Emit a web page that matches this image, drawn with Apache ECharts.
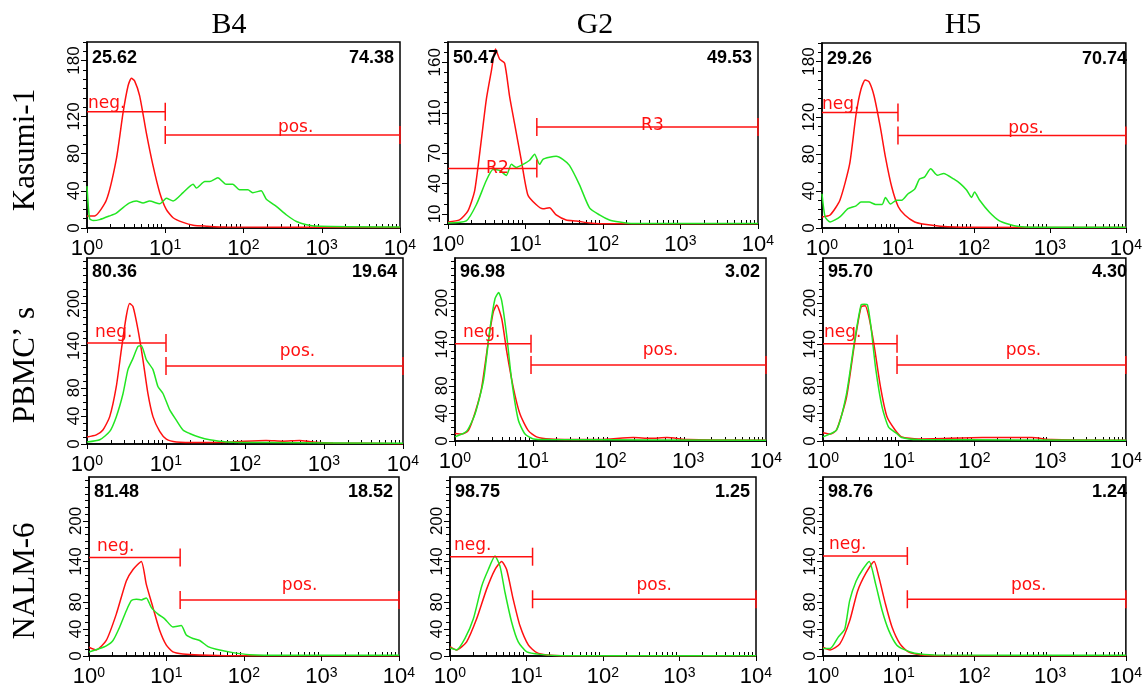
<!DOCTYPE html>
<html>
<head>
<meta charset="utf-8">
<title>Flow histograms</title>
<script src="https://cdn.jsdelivr.net/npm/echarts@6/dist/echarts.min.js"></script>
<style>
  html, body { margin: 0; background: #fff; }
  #chart { width: 1145px; height: 688px; }
</style>
</head>
<body>
<div id="chart"></div>
<script>
// columns / rows
const antibodies = ["B4", "G2", "H5"];
const cellLines = ["Kasumi-1", "PBMC’ s", "NALM-6"];

// histogram curves, [channel, count] (red = control, green = antibody)
const kasB4Red = [[1,13],[1.25,13],[1.77,30],[2.37,74],[2.89,124],[3.35,153],[3.69,161],[4.07,158],[4.71,142],[5.74,102],[6.98,67],[8.5,38],[10.3,20],[12.6,11],[16.9,6],[22.7,3],[33.6,2],[60,1],[10000,0.5]];
const kasB4Green = [[1,45],[1.08,10],[1.2,8],[1.45,9],[1.95,13],[2.37,16],[2.89,22],[3.51,27],[4.27,29],[5.2,27],[6.3,29],[8.5,26],[9.4,29],[10.3,32],[12.6,29],[16.9,38],[22.7,47],[25,43],[32,50],[37,50],[47,54],[60,47],[73,47],[89,41],[114,41],[132,38],[168,40],[196,31],[265,23],[355,14],[475,7],[640,3.6],[940,1.8],[10000,1]];
const kasG2Red = [[1,2],[1.41,4],[1.81,13],[2.21,33],[2.69,83],[3.12,123],[3.62,151],[4.1,173],[4.64,163],[5.38,159],[6.24,126],[7.24,99],[8.83,63],[10.7,29],[13.8,19],[16.8,15],[20.4,16],[24.9,9],[33.5,4],[45,3],[67,1],[90,0.3],[10000,0.3]];
const kasG2Green = [[1,1],[1.72,3],[2.32,19],[3.12,43],[3.8,54],[4.64,53],[5.66,48],[6.57,59],[7.6,56],[9.3,59],[11.3,63],[13.1,69],[15.2,59],[16.8,64],[20.4,66],[24.9,67],[30.3,64],[36.9,58],[49.6,39],[67,16],[90,9],[121,4],[164,2],[244,0.5],[10000,0.5]];
const kasH5Red = [[1,12],[1.28,14],[1.72,30],[2.31,69],[2.81,123],[3.26,150],[3.7,160],[4.17,158],[4.84,143],[5.86,109],[6.83,77],[8.3,44],[10.1,23],[12.3,14],[16.6,6.5],[22.3,4],[36,2],[80,0.7],[10000,0.5]];
const kasH5Green = [[1,37],[1.1,12],[1.28,6.5],[1.72,12],[2.2,21],[2.81,24],[3.26,28],[4.17,28],[5.07,25.5],[6.2,25.5],[6.83,33],[7.96,26],[9.6,30],[11.2,30],[13.6,37],[16.6,42],[19.2,53],[22.3,55],[27,64],[33,57],[40,59],[54,53],[66,48],[80,41],[93,33],[102,39],[119,30],[160,17],[214,8],[288,4],[390,1.5],[570,0.7],[10000,0.7]];
const pbmcB4Red = [[1,10],[1.31,13],[1.59,20],[1.94,39],[2.35,82],[2.72,134],[3.14,182],[3.47,200],[3.82,196],[4.42,163],[5.11,120],[5.9,72],[6.84,39],[8.32,18],[10.1,7],[13.5,3],[26.6,2],[70,3],[185,5],[300,4],[490,5],[720,3],[1300,1.5],[10000,0.5]];
const pbmcB4Green = [[1,3],[1.45,6],[1.94,18],[2.35,39],[2.86,72],[3.3,106],[3.82,122],[4.42,139],[4.88,140],[5.64,120],[6.84,106],[7.9,82],[9.15,72],[11.1,49],[13.5,34],[16.4,20],[19.9,15],[26.6,9.5],[35.7,6],[58,3],[185,2],[10000,1]];
const pbmcG2Red = [[1,11],[1.22,10],[1.48,15],[1.81,41],[2.2,77],[2.68,144],[3.11,187],[3.44,197],[3.99,177],[4.62,130],[5.63,77],[6.85,39],[8.77,15],[11.2,6],[16.7,3],[73,2],[197,5],[325,4],[530,5],[1000,2],[10000,1]];
const pbmcG2Green = [[1,6],[1.41,14],[1.81,39],[2.32,87],[2.82,163],[3.27,206],[3.64,215],[3.99,203],[4.62,153],[5.37,87],[6.53,30],[7.95,10],[10.2,3],[16.7,2],[10000,1]];
const pbmcH5Red = [[1,12],[1.24,10],[1.51,16],[2.04,63],[2.6,140],[3.18,194],[3.61,196],[4.07,178],[4.71,140],[5.75,78],[7.0,35],[8.95,16],[10.9,6],[17.9,3],[128,5],[211,5],[570,5],[1040,2],[10000,1]];
const pbmcH5Green = [[1,6],[1.51,16],[2.04,68],[2.6,144],[3.18,197],[3.51,198],[3.87,197],[4.27,168],[4.95,106],[6.03,49],[7.35,20],[9.4,11],[10.9,5],[17.9,2],[10000,1]];
const nalmB4Red = [[1,13],[1.24,9],[1.67,23],[2.25,62],[3.03,111],[3.7,128],[4.73,140],[5.49,106],[6.68,72],[8.15,38],[9.95,16],[12.1,6],[16.3,3],[26.8,1.5],[72,0.5],[10000,0.5]];
const nalmB4Green = [[1,6],[1.37,11],[1.67,15],[2.04,23],[2.49,43],[3.03,67],[3.52,82],[4.08,84],[4.73,83],[5.49,86],[6.36,72],[7.77,62],[9.48,55],[12.1,43],[15.5,45],[18,31],[21.9,26],[26.8,23],[34.3,14],[43.8,10],[72,5],[117,2],[316,1],[10000,1]];
const nalmG2Red = [[1,14],[1.22,9],[1.65,21],[2.23,55],[3.01,99],[3.87,128],[4.73,140],[5.5,128],[6.7,84],[8.2,45],[10.6,16],[13.6,5],[18.4,1.5],[33,0.5],[10000,0.5]];
const nalmG2Green = [[1,12],[1.22,9],[1.57,26],[2.02,55],[2.59,103],[3.17,128],[3.87,148],[4.5,133],[5.24,94],[6.4,50],[7.8,21],[10.1,6],[15,2.4],[30,0.5],[10000,0.5]];
const nalmH5Red = [[1,13],[1.24,9],[1.67,18],[2.25,52],[2.86,96],[3.7,123],[4.73,140],[5.49,116],[6.68,77],[8.15,43],[10.4,18],[13.4,6],[19.8,1.5],[36,0.5],[10000,0.5]];
const nalmH5Green = [[1,11],[1.24,11],[1.59,28],[1.94,40],[2.25,82],[2.74,111],[3.34,128],[4.08,140],[4.97,106],[6.05,67],[7.38,38],[9.45,16],[12.1,9],[16.3,4],[29.6,1.5],[10000,1]];

const redCurves = [kasB4Red, kasG2Red, kasH5Red, pbmcB4Red, pbmcG2Red, pbmcH5Red, nalmB4Red, nalmG2Red, nalmH5Red];
const greenCurves = [kasB4Green, kasG2Green, kasH5Green, pbmcB4Green, pbmcG2Green, pbmcH5Green, nalmB4Green, nalmG2Green, nalmH5Green];

// gate percentages
const negPct = [25.62, 50.47, 29.26, 80.36, 96.98, 95.70, 81.48, 98.75, 98.76];
const posPct = [74.38, 49.53, 70.74, 19.64, 3.02, 4.30, 18.52, 1.25, 1.24];

// gates: [from, to, height]
const negGates = [[1,10,125],[1,14,55],[1,10,125],[1,10,144],[1,9.5,141],[1,9.5,141],[1,15,146],[1,12,147],[1,13,148]];
const posGates = [[10,10000,100],[14,10000,96],[10,10000,100],[10,10000,111],[9.5,10000,110],[9.5,10000,110],[15,10000,83],[12,10000,84],[13,10000,84]];
const gateNames = [["neg.","pos."],["R2","R3"],["neg.","pos."],["neg.","pos."],["neg.","pos."],["neg.","pos."],["neg.","pos."],["neg.","pos."],["neg.","pos."]];

// axes
const yMax = [200, 180, 200, 265, 265, 265, 265, 265, 265];
const yTickLabels = [[0,40,80,120,180],[10,40,70,110,160],[0,40,80,120,180],[0,40,80,140,200],[0,40,80,140,200],[0,40,80,140,200],[0,40,80,140,200],[0,40,80,140,200],[0,40,80,140,200]];
const xDecades = [1, 10, 100, 1000, 10000];
const xMinorSteps = [2, 3, 4, 5, 6, 7, 8, 9];

// ---- layout ----
const boxes = [
  [87, 42, 313, 186], [448, 42, 310, 182], [822, 43, 311, 185],
  [87, 258, 316, 186], [455, 258, 311, 183], [823, 258, 310, 183],
  [89, 477, 310, 182], [450, 477, 306, 181], [823, 477, 310, 182]
];
// [align, dx, lift] for each gate label
const gateLabelStyle = [
  [["left",1,3],["center",13,2]], [["center",5,-5],["center",5,-4]], [["left",0,3],["center",14,2]],
  [["left",8,5],["center",13,10]], [["left",8,6],["center",12,9]], [["left",1,6],["center",12,9]],
  [["left",8,6],["center",10,9]], [["left",4,6],["center",10,9]], [["left",6,6],["center",12,9]]
];
const pctTop = [16, 14, 15];
const RED = "#ff1010";
const GREEN = "#22e622";

const minorX = [];
for (let n = 0; n < 4; n++) xMinorSteps.forEach(k => minorX.push(n + Math.log10(k)));

const grids = [], xAxes = [], yAxes = [], series = [], graphics = [];

boxes.forEach((b, i) => {
  grids.push({ left: b[0], top: b[1], width: b[2], height: b[3], show: true, borderColor: "#000", borderWidth: 1.5 });

  xAxes.push({
    type: "log", logBase: 10, gridIndex: i, min: 1, max: 10000, position: "bottom",
    axisLine: { show: true, onZero: false, lineStyle: { color: "#000", width: 1.5 } },
    axisTick: { show: true, length: 5, lineStyle: { color: "#000" } },
    axisLabel: {
      margin: 10,
      formatter: v => "{b|10}{s|" + Math.round(Math.log10(v)) + "}",
      rich: {
        b: { fontFamily: "Liberation Sans", fontSize: 22, color: "#000", lineHeight: 22 },
        s: { fontFamily: "Liberation Sans", fontSize: 14, color: "#000", lineHeight: 6, verticalAlign: "top" }
      }
    },
    splitLine: { show: false }
  });
  xAxes.push({
    type: "value", gridIndex: i, min: 0, max: 4, position: "bottom",
    axisLine: { show: false, onZero: false },
    axisTick: { show: true, inside: true, length: 4, customValues: minorX, lineStyle: { color: "#000" } },
    axisLabel: { show: false }, splitLine: { show: false }
  });

  const minorY = [];
  for (let v = 0; v <= yMax[i]; v += 10) minorY.push(v);
  yAxes.push({
    type: "value", gridIndex: i, min: 0, max: yMax[i], position: "left",
    axisLine: { show: true, onZero: false, lineStyle: { color: "#000", width: 1.5 } },
    axisTick: { show: true, length: 6, customValues: yTickLabels[i], lineStyle: { color: "#000" } },
    axisLabel: { customValues: yTickLabels[i], rotate: 90, margin: 4, fontFamily: "Liberation Sans", fontSize: 17, color: "#000" },
    splitLine: { show: false }
  });
  yAxes.push({
    type: "value", gridIndex: i, min: 0, max: yMax[i], position: "left",
    axisLine: { show: false, onZero: false },
    axisTick: { show: true, length: 4, customValues: minorY, lineStyle: { color: "#000" } },
    axisLabel: { show: false }, splitLine: { show: false }
  });

  series.push({
    type: "line", xAxisIndex: 2 * i, yAxisIndex: 2 * i, data: redCurves[i],
    showSymbol: false, smooth: 0.2, lineStyle: { color: RED, width: 1.5 }, z: 2
  });
  series.push({
    type: "line", xAxisIndex: 2 * i, yAxisIndex: 2 * i, data: greenCurves[i],
    showSymbol: false, smooth: 0.2, lineStyle: { color: GREEN, width: 1.5 }, z: 3
  });
  series.push({
    type: "custom", xAxisIndex: 2 * i, yAxisIndex: 2 * i, z: 4,
    data: [negGates[i].concat(0), posGates[i].concat(1)],
    encode: { x: [0, 1], y: 2 },
    renderItem: (params, api) => {
      const g = params.dataIndex;
      const p1 = api.coord([api.value(0), api.value(2)]);
      const p2 = api.coord([api.value(1), api.value(2)]);
      const st = gateLabelStyle[i][g];
      const ls = { stroke: RED, lineWidth: 1.5 };
      const kids = [
        { type: "line", shape: { x1: p1[0], y1: p1[1], x2: p2[0], y2: p2[1] }, style: ls },
        { type: "line", shape: { x1: p2[0], y1: p2[1] - 9, x2: p2[0], y2: p2[1] + 9 }, style: ls }
      ];
      if (g === 1) kids.push({ type: "line", shape: { x1: p1[0], y1: p1[1] - 9, x2: p1[0], y2: p1[1] + 9 }, style: ls });
      const tx = st[0] === "left" ? p1[0] + st[1] : (p1[0] + p2[0]) / 2 + st[1];
      kids.push({
        type: "text", x: tx, y: p1[1] - st[2] - 5,
        style: { text: gateNames[i][g], fill: RED, font: '17px "DejaVu Sans"', align: st[0], verticalAlign: "middle" }
      });
      return { type: "group", children: kids };
    }
  });

  const row = Math.floor(i / 3);
  graphics.push({
    type: "text", x: b[0] + 5, y: b[1] + pctTop[row], z: 10,
    style: { text: negPct[i].toFixed(2), fill: "#000", font: 'bold 18px "Liberation Sans"', align: "left", verticalAlign: "middle" }
  });
  graphics.push({
    type: "text", x: b[0] + b[2] - 6, y: b[1] + pctTop[row], z: 10,
    style: { text: posPct[i].toFixed(2), fill: "#000", font: 'bold 18px "Liberation Sans"', align: "right", verticalAlign: "middle" }
  });
});

const titleX = [229, 595, 963];
antibodies.forEach((t, c) => graphics.push({
  type: "text", x: titleX[c], y: 25,
  style: { text: t, fill: "#000", font: '30px "Liberation Serif"', align: "center", verticalAlign: "middle" }
}));
const rowY = [150, 365, 581];
cellLines.forEach((t, r) => graphics.push({
  type: "text", x: 26, y: rowY[r], rotation: Math.PI / 2,
  style: { text: t, fill: "#000", font: '31px "Liberation Serif"', align: "center", verticalAlign: "middle" }
}));

const chart = echarts.init(document.getElementById("chart"));
chart.setOption({
  animation: false,
  backgroundColor: "#fff",
  grid: grids,
  xAxis: xAxes,
  yAxis: yAxes,
  series: series,
  graphic: graphics
});
</script>
</body>
</html>
